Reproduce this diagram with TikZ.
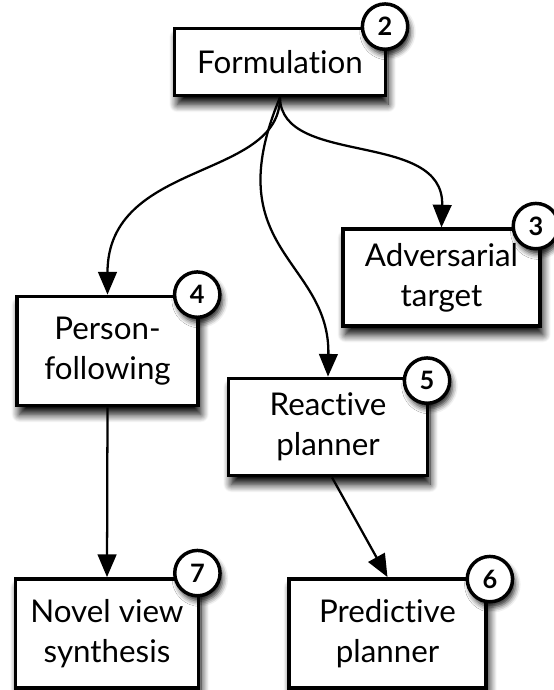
\documentclass[tikz,border=0pt]{standalone}
\usepackage{fontspec}
\setmainfont{Lato}[Ligatures=NoCommon]
\usetikzlibrary{arrows.meta,shadows.blur}

\begin{document}
\begin{tikzpicture}[x=0.75pt, y=-0.75pt,
    box/.style={draw, line width=2.6pt, fill=white, align=center, inner sep=0pt,
        font=\fontsize{23.5}{30}\selectfont,
        blur shadow={shadow xshift=2pt, shadow yshift=-6.5pt, shadow blur radius=6pt, shadow blur steps=10, shadow opacity=100}},
    num/.style={circle, draw, line width=2.6pt, fill=white, inner sep=0pt, minimum size=34pt,
        font=\fontsize{19}{19}\selectfont\bfseries,
        blur shadow={shadow xshift=2pt, shadow yshift=-4pt, shadow blur radius=4pt, shadow opacity=85}},
    link/.style={line width=1.7pt, -{Triangle[width=14pt,length=17pt]}}]
    \useasboundingbox (0, 0) rectangle (554, 690);

        \node[box, minimum width=158pt, minimum height=50.5pt] (form) at(280, 62){Formulation};
        \node[box, minimum width=148pt, minimum height=72.5pt] (adv) at(441.5, 277.5){Adversarial\\target};
        \node[box, minimum width=136pt, minimum height=82pt] (pers) at(107.5, 351){Person-\\following};
        \node[box, minimum width=149pt, minimum height=73pt] (react) at(328, 427){Reactive\\planner};
        \node[box, minimum width=137pt, minimum height=82pt] (novel) at(107, 633.5){Novel view\\synthesis};
        \node[box, minimum width=148pt, minimum height=82pt] (pred) at(387.5, 633.5){Predictive\\planner};

        \node[num] (n2) at([xshift=-1.5pt]form.north east){2};
        \node[num] (n3) at([xshift=-4.5pt, yshift=1pt]adv.north east){3};
        \node[num] (n4) at([xshift=-2pt]pers.north east){4};
        \node[num] (n5) at([xshift=-1.5pt, yshift=-3pt]react.north east){5};
        \node[num] (n7) at([xshift=-2pt, yshift=3pt]novel.north east){7};
        \node[num] (n6) at([xshift=1.5pt, yshift=-1.5pt]pred.north east){6};

        \draw[link] (form.south) .. controls +(0, 83) and +(0, -135) .. (pers.north);
        \draw[link] (form.south) .. controls +(-64, 153) and +(2, -117) .. (react.north);
        \draw[link] (form.south) .. controls +(1, 70) and +(3, -98) .. (adv.north);
        \draw[link] (pers.south) -- (novel.north);
        \draw[link] ([xshift=3pt]react.south) -- (pred.north);
\end{tikzpicture}
\end{document}
